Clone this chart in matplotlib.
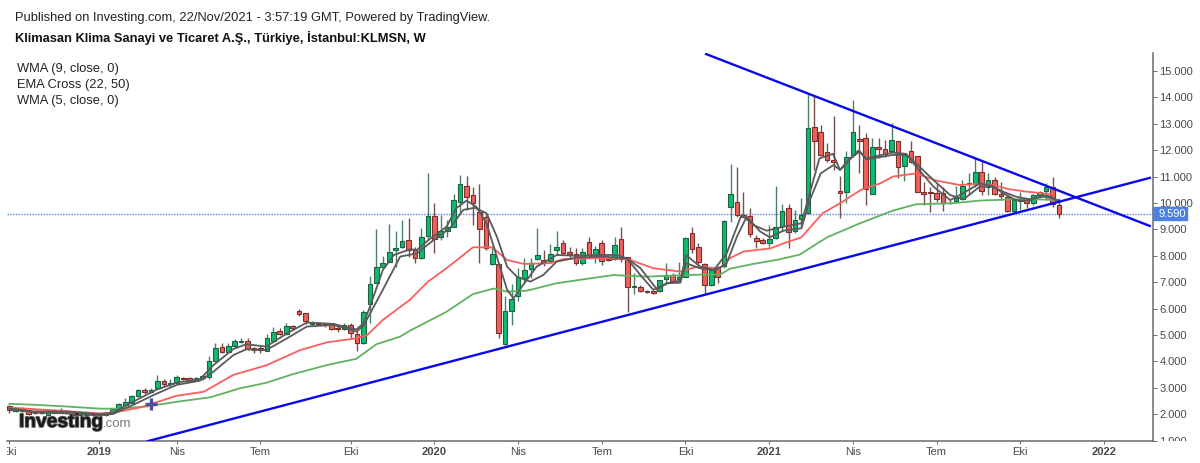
import numpy as np
import matplotlib
matplotlib.use("Agg")
import matplotlib.pyplot as plt
from matplotlib.patches import Rectangle
from matplotlib.transforms import Bbox, blended_transform_factory
import matplotlib.patheffects as pe

plt.rcParams['font.family'] = ['Liberation Sans', 'DejaVu Sans']

# weekly candles
opens = [2.31, 2.13, 2.24, 2.16, 2.10, 2.06, 1.96, 2.13, 2.16, 2.13, 2.06, 2.03, 1.96, 2.01, 1.96, 1.96, 2.03, 2.16, 2.35, 2.44,
         2.69, 2.90, 2.85, 2.98, 3.26, 3.13, 3.19, 3.36, 3.36, 3.30, 3.36, 3.42, 4.03, 4.56, 4.37, 4.60, 4.75, 4.76, 4.52, 4.51,
         4.41, 4.78, 5.14, 5.04, 5.33, 5.92, 5.82, 5.42, 5.47, 5.44, 5.44, 5.25, 5.21, 5.38, 5.04, 4.71, 6.16, 6.96, 7.56, 7.78,
         8.20, 8.32, 8.60, 8.22, 7.90, 8.75, 9.52, 8.70, 8.95, 9.10, 10.05, 10.65, 10.29, 9.67, 9.48, 7.68, 7.68, 4.66, 5.92, 6.48,
         7.15, 7.49, 7.89, 7.84, 7.80, 8.22, 8.47, 8.16, 8.06, 7.72, 8.51, 8.03, 8.47, 7.89, 7.87, 8.62, 7.97, 6.82, 6.82, 6.68,
         6.67, 6.66, 7.11, 7.27, 7.11, 7.21, 8.85, 8.32, 7.69, 6.90, 7.53, 7.63, 9.84, 10.05, 9.55, 9.51, 8.67, 8.61, 8.47, 8.66,
         9.14, 9.82, 8.95, 9.41, 9.61, 12.87, 12.70, 11.93, 11.62, 10.47, 10.43, 11.81, 12.42, 12.46, 10.34, 12.11, 12.03, 11.95, 12.35, 11.41,
         11.95, 11.79, 10.43, 10.40, 10.37, 10.37, 10.01, 10.09, 10.14, 10.70, 10.70, 11.19, 10.59, 10.88, 10.33, 10.24, 9.70, 10.09, 10.14, 10.01,
         10.29, 10.45, 10.62, 9.94]
highs = [2.35, 2.29, 2.27, 2.18, 2.14, 2.10, 2.16, 2.18, 2.25, 2.17, 2.12, 2.06, 2.06, 2.05, 2.05, 2.07, 2.20, 2.41, 2.60, 2.72,
         2.96, 3.00, 3.00, 3.47, 3.33, 3.34, 3.47, 3.40, 3.40, 3.39, 3.50, 4.20, 4.70, 4.70, 4.68, 4.85, 4.90, 4.88, 4.56, 4.60,
         5.05, 5.30, 5.28, 5.46, 5.36, 6.00, 5.82, 5.52, 5.50, 5.47, 5.47, 5.34, 5.45, 5.44, 5.19, 5.95, 7.25, 9.00, 7.99, 9.21,
         8.95, 9.36, 9.42, 8.32, 9.04, 11.12, 10.01, 9.55, 9.36, 10.34, 11.06, 11.04, 10.60, 10.72, 9.55, 8.32, 7.70, 6.48, 6.93, 7.53,
         7.90, 7.90, 9.04, 8.22, 8.45, 8.92, 8.60, 8.32, 8.28, 8.28, 8.73, 8.37, 8.60, 8.03, 8.70, 9.10, 7.97, 7.34, 6.90, 6.71,
         6.71, 7.08, 7.72, 7.34, 7.75, 8.70, 9.10, 8.47, 7.72, 7.46, 7.61, 9.36, 11.48, 11.38, 10.40, 9.80, 8.79, 8.66, 9.17, 10.64,
         9.96, 9.96, 9.74, 10.18, 14.15, 14.09, 12.96, 12.26, 13.30, 11.02, 11.97, 13.90, 12.96, 12.64, 12.45, 12.45, 12.39, 13.02, 12.35, 11.86,
         12.36, 11.79, 10.81, 10.62, 10.75, 10.62, 10.11, 10.64, 10.87, 11.12, 11.76, 11.63, 11.12, 11.00, 10.81, 10.30, 10.14, 10.43, 10.18, 10.33,
         10.45, 10.77, 11.00, 10.18]
lows = [2.03, 2.10, 2.10, 1.97, 2.02, 2.00, 1.94, 2.03, 2.04, 2.00, 1.96, 1.95, 1.93, 1.93, 1.94, 1.95, 2.00, 2.14, 2.30, 2.42,
        2.66, 2.76, 2.80, 2.96, 3.08, 3.02, 3.15, 3.28, 3.24, 3.27, 3.30, 3.32, 4.00, 4.30, 4.35, 4.55, 4.68, 4.42, 4.30, 4.32,
        4.38, 4.75, 5.00, 5.00, 5.18, 5.72, 5.40, 5.38, 5.36, 5.32, 5.18, 5.13, 5.20, 4.87, 4.41, 4.66, 5.44, 6.96, 7.53, 7.76,
        7.59, 8.30, 7.97, 7.72, 7.88, 8.60, 8.12, 8.60, 8.70, 9.08, 9.61, 9.74, 9.17, 7.72, 8.22, 7.65, 4.87, 4.62, 5.38, 6.30,
        6.93, 7.15, 7.84, 7.61, 7.72, 8.03, 8.03, 7.90, 7.65, 7.65, 7.90, 7.72, 7.65, 7.82, 7.84, 7.78, 5.88, 6.54, 6.62, 6.58,
        6.54, 6.64, 6.90, 7.02, 7.08, 7.21, 8.09, 7.65, 6.54, 6.86, 6.98, 7.53, 9.29, 9.48, 9.46, 8.73, 8.28, 8.45, 8.35, 8.62,
        8.92, 8.28, 8.88, 9.10, 9.58, 11.25, 11.78, 11.57, 11.23, 9.42, 10.01, 11.76, 11.15, 9.93, 10.34, 11.69, 11.73, 11.91, 10.93, 10.85,
        11.50, 10.40, 9.91, 9.66, 10.05, 9.71, 9.95, 10.05, 10.11, 10.30, 10.62, 10.30, 10.30, 10.30, 10.11, 9.67, 9.61, 9.73, 9.80, 9.92,
        10.24, 10.11, 9.86, 9.42]
closes = [2.16, 2.21, 2.13, 2.01, 2.06, 2.03, 2.11, 2.06, 2.07, 2.03, 1.98, 1.98, 2.03, 1.96, 2.02, 2.03, 2.18, 2.39, 2.46, 2.70,
          2.92, 2.85, 2.92, 3.26, 3.14, 3.17, 3.41, 3.32, 3.26, 3.36, 3.45, 4.03, 4.52, 4.37, 4.60, 4.77, 4.77, 4.47, 4.42, 4.42,
          4.87, 5.13, 5.04, 5.34, 5.25, 5.78, 5.52, 5.48, 5.40, 5.42, 5.21, 5.21, 5.38, 5.08, 4.69, 5.88, 6.93, 7.56, 7.74, 8.16,
          8.30, 8.56, 8.22, 7.90, 8.70, 9.52, 8.64, 8.95, 9.10, 10.11, 10.71, 10.22, 9.99, 9.00, 8.28, 8.06, 5.06, 5.92, 6.37, 7.21,
          7.46, 7.72, 8.03, 7.74, 8.06, 8.32, 8.09, 8.06, 7.74, 8.16, 8.03, 8.26, 7.82, 7.85, 8.40, 7.88, 6.83, 6.86, 6.67, 6.63,
          6.60, 7.07, 7.27, 7.06, 7.20, 8.67, 8.26, 7.75, 6.90, 7.45, 7.19, 9.33, 10.33, 9.55, 9.48, 8.83, 8.57, 8.47, 8.65, 9.10,
          9.71, 8.89, 9.36, 9.55, 12.83, 12.35, 11.83, 11.63, 11.54, 10.39, 11.76, 12.68, 12.35, 10.52, 12.13, 12.03, 11.87, 12.39, 11.35, 11.82,
          11.55, 10.43, 10.35, 10.38, 10.14, 10.01, 9.99, 10.17, 10.64, 10.75, 11.16, 10.45, 10.87, 10.34, 10.25, 9.70, 10.11, 10.15, 10.01, 10.29,
          10.43, 10.62, 9.96, 9.59]

# moving averages at the weeks listed
ema50_w = [0, 3.7, 9, 14.1, 16.7, 21.3, 26, 31.2, 35.8, 39.9, 44.1, 49.3, 53.9, 57, 60.7, 62.2, 67.9, 72, 75.2, 77.3, 80.4, 85, 89.2, 93.8, 99,
           107.6, 110.4, 111.9, 115.5, 119.1, 122.7, 127, 132.1, 137.2, 140.8, 146.5, 150.7, 152.7, 157.9, 163]
ema50 = [2.39, 2.36, 2.29, 2.21, 2.21, 2.29, 2.47, 2.64, 2.98, 3.19, 3.52, 3.86, 4.10, 4.65, 4.94, 5.16, 5.88, 6.55, 6.76, 6.64, 6.68, 6.96, 7.11, 7.27, 7.21,
         7.29, 7.29, 7.51, 7.69, 7.84, 8.04, 8.70, 9.23, 9.71, 9.95, 9.99, 10.09, 10.11, 10.15, 10.11]
ema22_w = [0, 8, 14.1, 16.7, 20.4, 26, 30.2, 34.8, 39.9, 45.2, 49.3, 53.5, 55.6, 58, 62.2, 65, 67.9, 72, 75, 77.3, 79.9, 84, 86.1, 91.9, 96, 100,
           104.2, 106.6, 110.4, 111.9, 114, 118.2, 120.2, 123, 126.3, 129, 132.2, 135.3, 137.2, 140.8, 143.9, 147.6, 150.7, 152.7, 155.3, 157.9, 162]
ema22 = [2.25, 2.13, 2.03, 2.08, 2.26, 2.70, 2.85, 3.49, 3.85, 4.43, 4.72, 4.86, 5.00, 5.57, 6.33, 7.02, 7.53, 8.32, 8.32, 7.84, 7.69, 7.72, 7.88, 7.91, 7.88, 7.53,
         7.40, 7.57, 7.53, 7.91, 8.16, 8.28, 8.47, 8.70, 9.61, 9.99, 10.49, 10.75, 11.00, 11.12, 10.85, 10.68, 10.72, 10.68, 10.52, 10.43, 10.33]
wma5_w = [0, 3.7, 9, 14.1, 16.1, 19.2, 22.8, 26, 29.6, 31.7, 34.8, 36.8, 39.9, 43.1, 46.2, 50.3, 53.9, 55, 56, 58, 59.7, 62.3, 63.3, 65.1, 67.9, 69.4, 71,
          72.5, 74.1, 75.7, 77.3, 78.3, 79.8, 81.9, 85, 88.1, 91.2, 94.4, 95.9, 98, 100, 102.1, 104.2, 105.1, 107.2, 109.4, 111.4, 113.7, 115.5, 117.6, 120.2,
          123, 124.3, 125.8, 127.9, 129, 130, 131.8, 133.1, 137.2, 139.3, 140.8, 143.5, 146.1, 147.6, 150.7, 152.7, 154.3, 156.3, 158.4, 160.6, 161.8, 163]
wma5 = [2.22, 2.11, 2.10, 2.00, 2.06, 2.47, 2.92, 3.20, 3.32, 3.86, 4.47, 4.65, 4.56, 5.06, 5.47, 5.42, 5.21, 5.44, 6.07, 7.46, 8.03, 8.25, 8.22, 8.60, 9.10, 9.80, 10.09,
        9.86, 9.23, 7.97, 6.71, 6.39, 6.90, 7.59, 8.03, 8.00, 8.03, 8.03, 7.90, 7.27, 6.71, 6.96, 7.06, 8.03, 7.60, 7.46, 8.09, 9.55, 9.17, 8.95, 9.10,
        9.23, 10.37, 11.69, 11.86, 11.25, 11.50, 11.98, 11.69, 11.91, 11.86, 11.38, 10.62, 10.11, 10.30, 10.74, 10.64, 10.37, 10.11, 10.09, 10.30, 10.24, 10.05]
wma9_w = [0, 3.7, 9, 14.1, 16.1, 19.2, 22.8, 26, 29.6, 31.7, 34.8, 36.8, 39.9, 43.1, 46.2, 50.3, 53.9, 55, 58, 60.7, 63.3, 65.9, 68.4, 70.5, 72.3, 74.1, 75.7,
          77.3, 78.8, 80.9, 82.9, 85, 88.1, 92.2, 95.9, 98, 100.6, 102.1, 104.2, 105.1, 107.2, 109.7, 111.4, 113, 114.5, 116.6, 118.1, 120.2, 123, 124.3, 126,
          128, 129, 130.5, 132.1, 133.1, 137.2, 139.3, 140.8, 143.5, 146.1, 148.2, 150.7, 152.7, 154.3, 156.3, 158.4, 160.6, 161.8, 163]
wma9 = [2.21, 2.07, 2.03, 1.96, 2.01, 2.35, 2.77, 3.11, 3.27, 3.61, 4.24, 4.46, 4.43, 4.87, 5.32, 5.38, 5.13, 5.35, 6.71, 7.97, 8.09, 8.60, 9.04, 9.74, 9.82, 9.61, 8.73,
        7.59, 7.21, 7.02, 7.27, 7.78, 7.93, 7.97, 7.90, 7.53, 6.72, 6.96, 6.98, 7.72, 7.53, 7.46, 7.72, 8.73, 9.48, 8.92, 8.70, 8.95, 9.04, 10.10, 11.12,
        11.44, 11.25, 11.69, 11.95, 11.65, 11.82, 11.82, 11.50, 10.87, 10.30, 10.14, 10.62, 10.62, 10.43, 10.24, 10.14, 10.24, 10.18, 10.09]

# hand drawn trend lines (week, price)
down_w = [108.2, 177.1]
down_p = [15.64, 9.13]
up_w = [21.5, 177.1]
up_p = [0.98, 10.95]

last_price = 9.59

y_ticks = list(range(1, 16))
y_labels = ["%d.000" % v for v in y_ticks]
x_ticks = [0, 14, 26, 39, 53, 66, 79, 92, 105, 118, 131, 144, 157, 170]
x_labels = ["Eki", "2019", "Nis", "Tem", "Eki", "2020", "Nis", "Tem", "Eki", "2021", "Nis", "Tem", "Eki", "2022"]

W, H = 1200, 463
fig = plt.figure(figsize=(W / 100, H / 100), dpi=100)
ax = fig.add_axes([7 / W, 1 - 441 / H, (1153 - 7) / W, (441 - 53) / H])

opens = np.array(opens)
closes = np.array(closes)
weeks = np.arange(len(closes))
up = closes >= opens

ax.vlines(weeks[up], np.array(lows)[up], np.array(highs)[up], color='#4a8068', lw=1.0, zorder=2)
ax.vlines(weeks[~up], np.array(lows)[~up], np.array(highs)[~up], color='#75504e', lw=1.0, zorder=2)
ax.bar(weeks[up], (closes - opens)[up], bottom=opens[up], width=0.72, color='#0bbd6e', edgecolor='#1f6045', lw=0.8, zorder=2.5)
ax.bar(weeks[~up], (opens - closes)[~up], bottom=closes[~up], width=0.72, color='#f0605a', edgecolor='#7a2f2b', lw=0.8, zorder=2.5)

ax.plot(ema50_w, ema50, color='#5fb360', lw=1.3, zorder=3)
ax.plot(ema22_w, ema22, color='#fb5f5c', lw=1.3, zorder=3)
ax.plot(wma9_w, wma9, color='#5a5a5a', lw=1.3, zorder=3.2)
ax.plot(wma5_w, wma5, color='#5a5a5a', lw=1.3, zorder=3.2)

ax.axhline(last_price, color='#5a84e4', lw=1.0, ls=(0, (1, 1)), zorder=1.5)
ax.plot(down_w, down_p, color='#0808f0', lw=1.7, zorder=4)
ax.plot(up_w, up_p, color='#0808f0', lw=1.7, zorder=4)
ax.plot([22], [2.39], marker='+', ms=9, mew=2.4, color='#4f4f9e', zorder=4)

ax.set_xlim(-0.36, 177.6)
ax.set_ylim(0.985, 15.68)
for s in ['top', 'left']:
    ax.spines[s].set_visible(False)
for s in ['right', 'bottom']:
    ax.spines[s].set_color('#6a6a6a')
    ax.spines[s].set_linewidth(1.1)

ax.yaxis.tick_right()
ax.set_yticks(y_ticks)
ax.set_yticklabels(y_labels, fontsize=8, color='#4a4a4a')
ax.tick_params(axis='y', length=3, width=0.7, color='#6a6a6a', pad=1.5)
ax.set_xticks(x_ticks)
ax.set_xticklabels(x_labels, fontsize=8, color='#4a4a4a')
ax.tick_params(axis='x', length=2.5, width=0.7, color='#6a6a6a', pad=2)

# keep the cut off labels at the chart edges
fig.canvas.draw()
for lab in ax.get_xticklabels():
    if lab.get_text() in ("2019", "2020", "2021", "2022"):
        lab.set_fontweight('bold')
    lab.set_clip_box(Bbox([[7, 0], [W, H]]))
    lab.set_clip_on(True)
for lab in ax.get_yticklabels():
    lab.set_clip_box(Bbox([[1150, H - 441], [W, H]]))
    lab.set_clip_on(True)

# last price tag on the axis
tag_tr = blended_transform_factory(ax.transAxes, ax.transData)
ax.add_patch(Rectangle((1, last_price - 0.24), 34 / 1146, 0.48, transform=tag_tr, color='#4c80e2', clip_on=False, zorder=6))
ax.text(1 + 5.5 / 1146, last_price, "9.590", transform=tag_tr, va='center', ha='left', fontsize=8, color='white', zorder=7, clip_on=False)

fig.text(15 / W, 1 - 21 / H, "Published on Investing.com, 22/Nov/2021 - 3:57:19 GMT, Powered by TradingView.",
         fontsize=9.25, color='#222222')
fig.text(15 / W, 1 - 42 / H, "Klimasan Klima Sanayi ve Ticaret A.Ş., Türkiye, İstanbul:KLMSN, W",
         fontsize=9.3, fontweight='bold', color='#111111')
fig.text(17 / W, 1 - 72 / H, "WMA (9, close, 0)", fontsize=9.3, color='#222222')
fig.text(17 / W, 1 - 88 / H, "EMA Cross (22, 50)", fontsize=9.3, color='#222222')
fig.text(17 / W, 1 - 104 / H, "WMA (5, close, 0)", fontsize=9.3, color='#222222')

logo = fig.text(19 / W, 1 - 427 / H, "Investing", fontsize=13.8, fontweight='bold', color='#1a1a1a', zorder=7)
logo.set_path_effects([pe.withStroke(linewidth=1.2, foreground='#666666')])
fig.text(103 / W, 1 - 427 / H, ".com", fontsize=9.5, color='#777777', zorder=7)

fig.savefig("out.png", dpi=100)
